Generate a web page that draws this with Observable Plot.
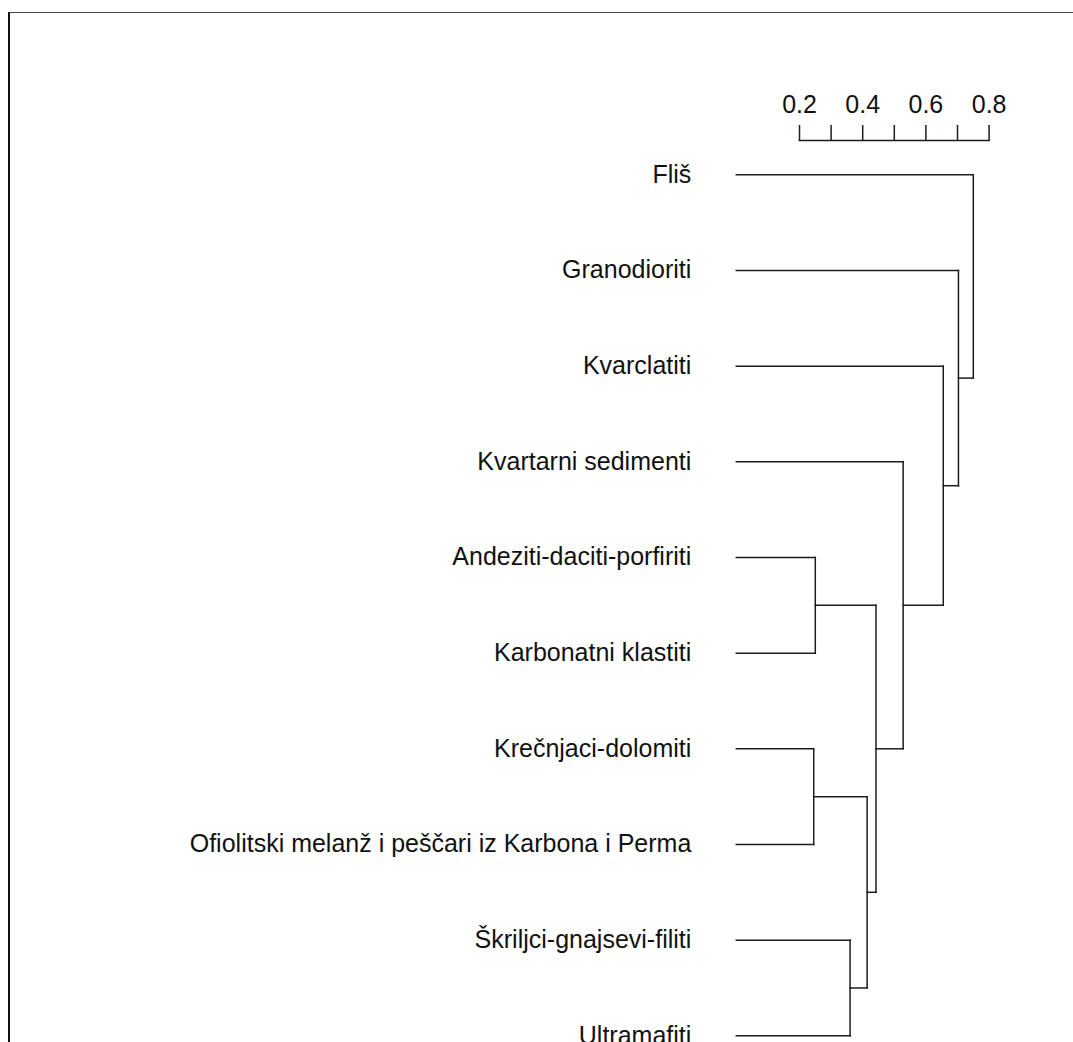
<!DOCTYPE html>
<html>
<head>
<meta charset="utf-8">
<script src="https://cdn.jsdelivr.net/npm/d3@7"></script>
<script src="https://cdn.jsdelivr.net/npm/@observablehq/plot@0.6"></script>
<style>
  html, body { margin: 0; padding: 0; background: #fff; }
  #wrap { position: relative; width: 1073px; height: 1042px; overflow: hidden; }
  #border { position: absolute; left: 8px; top: 12px; right: -10px; bottom: -10px;
            border-top: 1.5px solid #444; border-left: 2px solid #111; pointer-events: none; }
  #chart { position: absolute; left: 0; top: 0; }
</style>
</head>
<body>
<div id="wrap"><div id="chart"></div><div id="border"></div></div>
<script>
// Leaf order (top to bottom)
const leaves = [
  "Fliš",
  "Granodioriti",
  "Kvarclatiti",
  "Kvartarni sedimenti",
  "Andeziti-daciti-porfiriti",
  "Karbonatni klastiti",
  "Krečnjaci-dolomiti",
  "Ofiolitski melanž i peščari iz Karbona i Perma",
  "Škriljci-gnajsevi-filiti",
  "Ultramafiti"
];
// Merges (in order of height); names "M1".."M9" refer to earlier merges
const mergeNames   = ["M1", "M2", "M3", "M4", "M5", "M6", "M7", "M8", "M9"];
const mergeLeft    = ["Krečnjaci-dolomiti", "Andeziti-daciti-porfiriti", "Škriljci-gnajsevi-filiti", "M1", "M2", "Kvartarni sedimenti", "Kvarclatiti", "Granodioriti", "Fliš"];
const mergeRight   = ["Ofiolitski melanž i peščari iz Karbona i Perma", "Karbonatni klastiti", "Ultramafiti", "M3", "M4", "M5", "M6", "M7", "M8"];
const mergeHeights = [0.245, 0.25, 0.36, 0.414, 0.442, 0.528, 0.655, 0.703, 0.75];

// Scale bar
const scaleTicks  = [0.2, 0.3, 0.4, 0.5, 0.6, 0.7, 0.8];
const scaleLabels = [0.2, 0.4, 0.6, 0.8];

// Build node positions (height, leaf index position)
const node = new Map();
leaves.forEach((name, i) => node.set(name, {h: 0, pos: i}));
const segments = [];
mergeNames.forEach((m, k) => {
  const a = node.get(mergeLeft[k]);
  const b = node.get(mergeRight[k]);
  const h = mergeHeights[k];
  segments.push({x1: a.h, x2: h, y1: a.pos, y2: a.pos});
  segments.push({x1: b.h, x2: h, y1: b.pos, y2: b.pos});
  segments.push({x1: h, x2: h, y1: a.pos, y2: b.pos});
  node.set(m, {h, pos: (a.pos + b.pos) / 2});
});
const leafData = leaves.map((name, i) => ({name, pos: i, h: 0}));

const ink = "#1c1c1c";
const chart = Plot.plot({
  width: 1073,
  height: 1042,
  marginTop: 140,
  marginBottom: 6.7,
  marginLeft: 799,
  marginRight: 84.4,
  style: {fontFamily: "'Liberation Sans', Arial, sans-serif", fontSize: "25px", color: ink, background: "transparent"},
  x: {type: "linear", domain: [0, 0.8], range: [735.8, 988.6]},
  y: {type: "linear", domain: [0, leaves.length - 1], range: [174.3, 1035.3], axis: null},
  marks: [
    Plot.frame({anchor: "top", stroke: ink, strokeWidth: 1.5}),
    Plot.axisX({
      anchor: "top",
      ticks: scaleTicks,
      tickSize: 16,
      tickPadding: 12,
      tickFormat: d => scaleLabels.some(v => Math.abs(v - d) < 1e-9) ? d.toFixed(1) : "",
      stroke: ink,
      strokeWidth: 1.5,
      fill: "#111",
      fontSize: 25,
      label: null
    }),
    Plot.link(segments, {x1: "x1", x2: "x2", y1: "y1", y2: "y2", stroke: ink, strokeWidth: 1.5, strokeLinecap: "square"}),
    Plot.text(leafData, {x: "h", y: "pos", text: "name", textAnchor: "end", dx: -45, fill: "#111", fontSize: 25})
  ]
});
document.getElementById("chart").appendChild(chart);
</script>
</body>
</html>
